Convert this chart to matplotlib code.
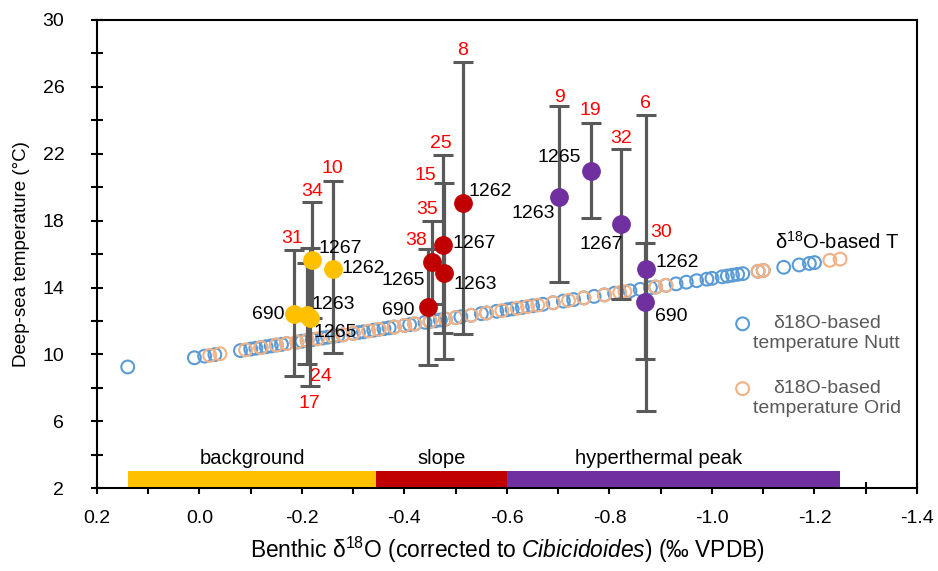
import numpy as np
import matplotlib
matplotlib.use("Agg")
import matplotlib.pyplot as plt
from matplotlib.ticker import FixedLocator, FuncFormatter

plt.rcParams['font.family'] = ['Liberation Sans', 'DejaVu Sans']
plt.rcParams['mathtext.fontset'] = 'custom'
plt.rcParams['mathtext.rm'] = 'Liberation Sans'
plt.rcParams['mathtext.it'] = 'Liberation Sans:italic'
plt.rcParams['axes.unicode_minus'] = False

# delta18O-based temperature (Nutt)
nutt_d18o = [0.14, 0.01, -0.01, -0.03, -0.08, -0.10, -0.11, -0.12, -0.13, -0.14,
             -0.15, -0.16, -0.17, -0.19, -0.20, -0.21, -0.22, -0.24, -0.25, -0.26,
             -0.27, -0.28, -0.30, -0.31, -0.32, -0.34, -0.35, -0.36, -0.37, -0.38,
             -0.40, -0.41, -0.42, -0.44, -0.45, -0.46, -0.47, -0.48, -0.50, -0.51,
             -0.53, -0.55, -0.56, -0.58, -0.60, -0.61, -0.63, -0.65, -0.67, -0.69,
             -0.71, -0.73, -0.75, -0.77, -0.79, -0.81, -0.84, -0.86, -0.88, -0.89,
             -0.91, -0.93, -0.95, -0.97, -0.99, -1.00, -1.02, -1.03, -1.04, -1.05,
             -1.06, -1.09, -1.10, -1.14, -1.17, -1.19, -1.20]
nutt_T = [9.25, 9.80, 9.90, 9.99, 10.23, 10.32, 10.37, 10.41, 10.46, 10.51,
          10.56, 10.60, 10.65, 10.74, 10.79, 10.84, 10.88, 10.98, 11.03, 11.07,
          11.12, 11.17, 11.26, 11.31, 11.35, 11.45, 11.50, 11.54, 11.59, 11.64,
          11.73, 11.78, 11.82, 11.92, 11.97, 12.01, 12.06, 12.11, 12.20, 12.25,
          12.34, 12.44, 12.48, 12.58, 12.67, 12.72, 12.81, 12.91, 13.00, 13.09,
          13.19, 13.28, 13.38, 13.47, 13.56, 13.66, 13.80, 13.89, 13.99, 14.03,
          14.13, 14.22, 14.32, 14.41, 14.50, 14.55, 14.64, 14.69, 14.74, 14.79,
          14.83, 14.97, 15.02, 15.21, 15.35, 15.44, 15.49]

# delta18O-based temperature (Orid)
orid_d18o = [-0.02, -0.04, -0.09, -0.12, -0.15, -0.17, -0.19, -0.21, -0.23, -0.26,
             -0.28, -0.30, -0.33, -0.35, -0.38, -0.40, -0.42, -0.45, -0.48, -0.50,
             -0.53, -0.56, -0.59, -0.62, -0.64, -0.66, -0.69, -0.72, -0.75, -0.79,
             -0.82, -0.83, -0.89, -0.91, -1.09, -1.10, -1.23, -1.25]
orid_T = [9.94, 10.04, 10.27, 10.41, 10.56, 10.65, 10.74, 10.84, 10.93, 11.07,
          11.17, 11.26, 11.40, 11.50, 11.64, 11.73, 11.82, 11.97, 12.11, 12.20,
          12.34, 12.48, 12.62, 12.76, 12.86, 12.95, 13.09, 13.23, 13.38, 13.56,
          13.70, 13.75, 14.03, 14.13, 14.97, 15.02, 15.63, 15.70]

# site means with error bars; n = number of samples (red numbers)
bg_sites = ['690', '1263', '1265', '1267', '1262']
bg_d18o = [-0.185, -0.21, -0.215, -0.22, -0.26]
bg_T = [12.41, 12.35, 12.15, 15.64, 15.10]
bg_lo = [3.70, 2.90, 4.05, 3.49, 5.03]
bg_hi = [3.83, 3.10, 4.20, 3.49, 5.28]
bg_n = ['31', '24', '17', '34', '10']

sl_sites = ['690', '1265', '1267', '1263', '1262']
sl_d18o = [-0.4465, -0.454, -0.4757, -0.478, -0.5136]
sl_T = [12.81, 15.50, 16.54, 14.84, 19.03]
sl_lo = [3.46, 2.49, 5.27, 5.14, 7.82]
sl_hi = [3.47, 2.49, 5.38, 5.39, 8.47]
sl_n = ['38', '35', '25', '15', '8']

pk_sites = ['1263', '1265', '1267', '1262', '690']
pk_d18o = [-0.702, -0.763, -0.822, -0.871, -0.870]
pk_T = [19.43, 20.96, 17.79, 15.10, 13.11]
pk_lo = [5.11, 2.79, 4.49, 8.48, 3.41]
pk_hi = [5.42, 2.89, 4.49, 9.21, 3.53]
pk_n = ['9', '19', '32', '6', '30']

# interval bars along the bottom
phases = ['background', 'slope', 'hyperthermal peak']
phase_start = [0.14, -0.345, -0.60]
phase_end = [-0.345, -0.60, -1.25]
phase_colors = ['#FFC000', '#C00000', '#7030A0']

fig = plt.figure(figsize=(9.38, 5.71), dpi=100)
ax = fig.add_axes([0.1034, 0.145, 0.8742, 0.82])

ax.scatter(nutt_d18o, nutt_T, s=85, facecolors='none', edgecolors='#5B9BD5',
           linewidths=1.5, zorder=2, label='δ18O-based\ntemperature Nutt')
ax.scatter(orid_d18o, orid_T, s=85, facecolors='none', edgecolors='#F4B183',
           linewidths=1.5, zorder=2, label='δ18O-based\ntemperature Orid')

groups = [
    (bg_sites, bg_d18o, bg_T, bg_lo, bg_hi, bg_n, phase_colors[0],
     [('right', -10, 0), ('left', 4, 11), ('left', 4, -14), ('left', 6, 12), ('left', 9, 1)],
     [('top', -2, 12), ('bot', 14, -13), ('bot', 0, -17), ('top', 0, 10), ('top', 0, 12)]),
    (sl_sites, sl_d18o, sl_T, sl_lo, sl_hi, sl_n, phase_colors[1],
     [('right', -14, -3), ('right', -7, -18), ('left', 9, 2), ('left', 9, -11), ('left', 6, 12)],
     [('top', -12, 9), ('top', -5, 11), ('top', -2, 12), ('top', -19, 8), ('top', 0, 11)]),
    (pk_sites, pk_d18o, pk_T, pk_lo, pk_hi, pk_n, phase_colors[2],
     [('right', -4, -17), ('right', -10, 14), ('right', 2, -20), ('left', 10, 7), ('left', 10, -14)],
     [('top', 0, 9), ('top', 0, 12), ('top', 0, 11), ('top', 0, 12), ('top', 16, 11)]),
]

for sites, xs, ts, lo, hi, ns, col, site_off, n_off in groups:
    ax.errorbar(xs, ts, yerr=[lo, hi], fmt='none', ecolor='#595959',
                elinewidth=2.3, capsize=7, capthick=2.2, zorder=3)
    ax.plot(xs, ts, 'o', ms=12.5, color=col, mec=col, zorder=4, ls='none')
    for i in range(len(xs)):
        ha, dx, dy = site_off[i]
        ax.annotate(sites[i], (xs[i], ts[i]), xytext=(dx, dy),
                    textcoords='offset pixels', ha=ha, va='center',
                    fontsize=14, color='black', zorder=5)
        end, dx, dy = n_off[i]
        yend = ts[i] + hi[i] if end == 'top' else ts[i] - lo[i]
        ax.annotate(ns[i], (xs[i], yend), xytext=(dx, dy),
                    textcoords='offset pixels', ha='center', va='center',
                    fontsize=14, color='#FF0000', zorder=5)

for name, a, b, c in zip(phases, phase_start, phase_end, phase_colors):
    ax.barh(2.55, b - a, left=a, height=0.95, color=c, zorder=3)
    xm = (a + b) / 2
    dx = -15 if name == 'hyperthermal peak' else 0
    ax.annotate(name, (xm, 3.03), xytext=(dx, 3), textcoords='offset pixels',
                ha='center', va='bottom', fontsize=14.5, zorder=5)

ax.text(-1.365, 16.75, 'δ$^{18}$O-based T', ha='right', va='center', fontsize=14.5)

ax.set_xlim(0.2, -1.4)
ax.set_ylim(2, 30)

xt = np.round(np.arange(0.2, -1.45, -0.1), 1)
ax.xaxis.set_major_locator(FixedLocator(xt))
ax.xaxis.set_major_formatter(FuncFormatter(
    lambda v, p: ('%.1f' % v).replace('-0.0', '0.0') if round(v * 10) % 2 == 0 else ''))
yt = np.arange(2, 31, 2)
ax.yaxis.set_major_locator(FixedLocator(yt))
ax.yaxis.set_major_formatter(FuncFormatter(
    lambda v, p: '%d' % v if int(round(v)) % 4 == 2 else ''))

ax.tick_params(axis='y', direction='inout', length=9, width=1.5, labelsize=14, pad=19)
ax.tick_params(axis='x', direction='inout', length=9, width=1.5, labelsize=14, pad=11)
for s in ax.spines.values():
    s.set_linewidth(1.5)
    s.set_color('black')

ax.set_ylabel('Deep-sea temperature (°C)', fontsize=13.5, labelpad=9)
ax.set_xlabel('Benthic δ$^{18}$O (corrected to $\\it{Cibicidoides}$) (‰ VPDB)',
              fontsize=16.4, labelpad=6)

leg = ax.legend(loc='upper left', bbox_to_anchor=(0.766, 0.386), frameon=False,
                fontsize=14, handletextpad=0.05, labelspacing=1.45,
                borderaxespad=0, handlelength=1.0)
for t in leg.get_texts():
    t.set_color('#595959')
    t.set_multialignment('center')
# put the marker next to the first line of each two-line label
for h in leg.legend_handles:
    off = h.get_offsets()
    off[:, 1] += 8.0
    h.set_offsets(off)

fig.savefig('out.png', dpi=100)
